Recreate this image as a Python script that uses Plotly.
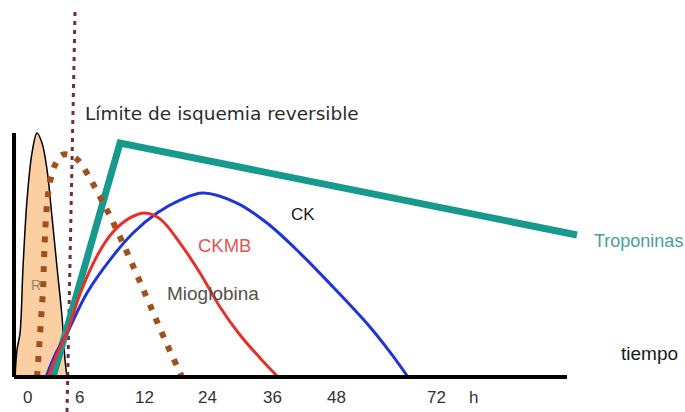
import plotly.graph_objects as go

# Schematic units: x = position along time axis (tick "0" at 0), y = relative concentration (axis top = 1)
tick_pos = [0.0, 0.841, 1.857, 2.857, 3.897, 4.905, 6.503, 7.079]
tick_labels = ["0", "6", "12", "24", "36", "48", "72", "h"]

bell_x = [-0.190, -0.159, -0.111, -0.063, 0.0, 0.079, 0.159, 0.238, 0.317, 0.397, 0.476, 0.556, 0.603, 0.635]
bell_y = [0.0, 0.111, 0.180, 0.451, 0.725, 0.918, 1.0, 0.959, 0.852, 0.656, 0.451, 0.246, 0.070, 0.0]

mio_x = [0.159, 0.190, 0.222, 0.254, 0.270, 0.286, 0.317, 0.365, 0.444, 0.556, 0.683, 0.810, 0.968,
         1.159, 1.349, 1.556, 1.746, 1.952, 2.190, 2.460]
mio_y = [0.0, 0.111, 0.234, 0.357, 0.480, 0.582, 0.705, 0.799, 0.869, 0.910, 0.910, 0.889, 0.828,
         0.738, 0.643, 0.529, 0.418, 0.295, 0.152, 0.0]

trop_x = [0.413, 1.476, 8.730]
trop_y = [0.0, 0.959, 0.582]

ckmb_x = [0.333, 0.492, 0.651, 0.841, 1.111, 1.365, 1.635, 1.873, 2.111, 2.429, 2.746, 3.063, 3.381, 3.698, 3.984]
ckmb_y = [0.0, 0.102, 0.193, 0.340, 0.496, 0.594, 0.652, 0.672, 0.648, 0.549, 0.426, 0.287, 0.172, 0.078, 0.0]

ck_x = [0.302, 0.444, 0.635, 0.952, 1.317, 1.683, 2.063, 2.429, 2.794, 3.333, 3.810, 4.333, 4.857, 5.444, 5.762, 6.048]
ck_y = [0.0, 0.090, 0.180, 0.344, 0.480, 0.590, 0.672, 0.725, 0.754, 0.713, 0.631, 0.508, 0.369, 0.205, 0.102, 0.0]

limit_x = [0.762, 0.635]
limit_y = [1.496, -0.143]

yaxis_x = [-0.206, -0.206]
yaxis_y = [1.0, 0.0]
xaxis_x = [-0.206, 8.571]
xaxis_y = [0.0, 0.0]

FONT = "Liberation Sans, Arial, sans-serif"
TITLE_FONT = "DejaVu Sans, sans-serif"

fig = go.Figure()

fig.add_trace(go.Scatter(x=bell_x, y=bell_y, mode="lines", line=dict(color="black", width=1.5, shape="spline"),
                         fill="tozeroy", fillcolor="#FBCFA1", hoverinfo="skip"))
fig.add_trace(go.Scatter(x=limit_x, y=limit_y, mode="lines",
                         line=dict(color="#7A2A35", width=3, dash="4px,5px"), hoverinfo="skip"))
fig.add_trace(go.Scatter(x=trop_x, y=trop_y, mode="lines", line=dict(color="#17998D", width=7), hoverinfo="skip"))
fig.add_trace(go.Scatter(x=ck_x, y=ck_y, mode="lines", line=dict(color="#1F35D8", width=3, shape="spline"), hoverinfo="skip"))
fig.add_trace(go.Scatter(x=ckmb_x, y=ckmb_y, mode="lines", line=dict(color="#E8302A", width=3, shape="spline"), hoverinfo="skip"))
fig.add_trace(go.Scatter(x=mio_x, y=mio_y, mode="lines",
                         line=dict(color="#A0501A", width=6, dash="6px,9px", shape="spline"), hoverinfo="skip"))
fig.add_trace(go.Scatter(x=yaxis_x, y=yaxis_y, mode="lines", line=dict(color="black", width=4), hoverinfo="skip"))
fig.add_trace(go.Scatter(x=xaxis_x, y=xaxis_y, mode="lines", line=dict(color="black", width=4), hoverinfo="skip"))

ann = [
    dict(text="Límite de isquemia reversible", x=0.889, y=1.078, xanchor="left",
         font=dict(size=18.5, color="#2b2b2b", family=TITLE_FONT)),
    dict(text="CK", x=4.373, y=0.668, font=dict(size=17, color="#1a1a1a")),
    dict(text="CKMB", x=3.127, y=0.537, font=dict(size=18.5, color="#E05555")),
    dict(text="Mioglobina", x=2.952, y=0.344, font=dict(size=19, color="#555048")),
    dict(text="Troponinas", x=8.968, y=0.557, xanchor="left", font=dict(size=18, color="#4A9E9E")),
    dict(text="tiempo", x=9.873, y=0.098, font=dict(size=19, color="#1a1a1a")),
    dict(text="R", x=0.143, y=0.377, font=dict(size=14, color="#A08565")),
]
for tp, tl in zip(tick_pos, tick_labels):
    ann.append(dict(text=tl, x=tp, y=-0.082, font=dict(size=17, color="#333333")))
for a in ann:
    a.update(showarrow=False, xref="x", yref="y")
    a["font"].setdefault("family", FONT)

fig.update_layout(
    width=685, height=412,
    margin=dict(l=0, r=0, t=0, b=0),
    paper_bgcolor="white", plot_bgcolor="white",
    showlegend=False,
    xaxis=dict(range=[-0.4286, 10.444], visible=False, fixedrange=True),
    yaxis=dict(range=[-0.1434, 1.5451], visible=False, fixedrange=True),
    annotations=ann,
    font=dict(family=FONT),
)

fig.write_html("out.html", config={"displayModeBar": False},
               post_script="document.body.style.margin='0';document.body.style.overflow='hidden';")
